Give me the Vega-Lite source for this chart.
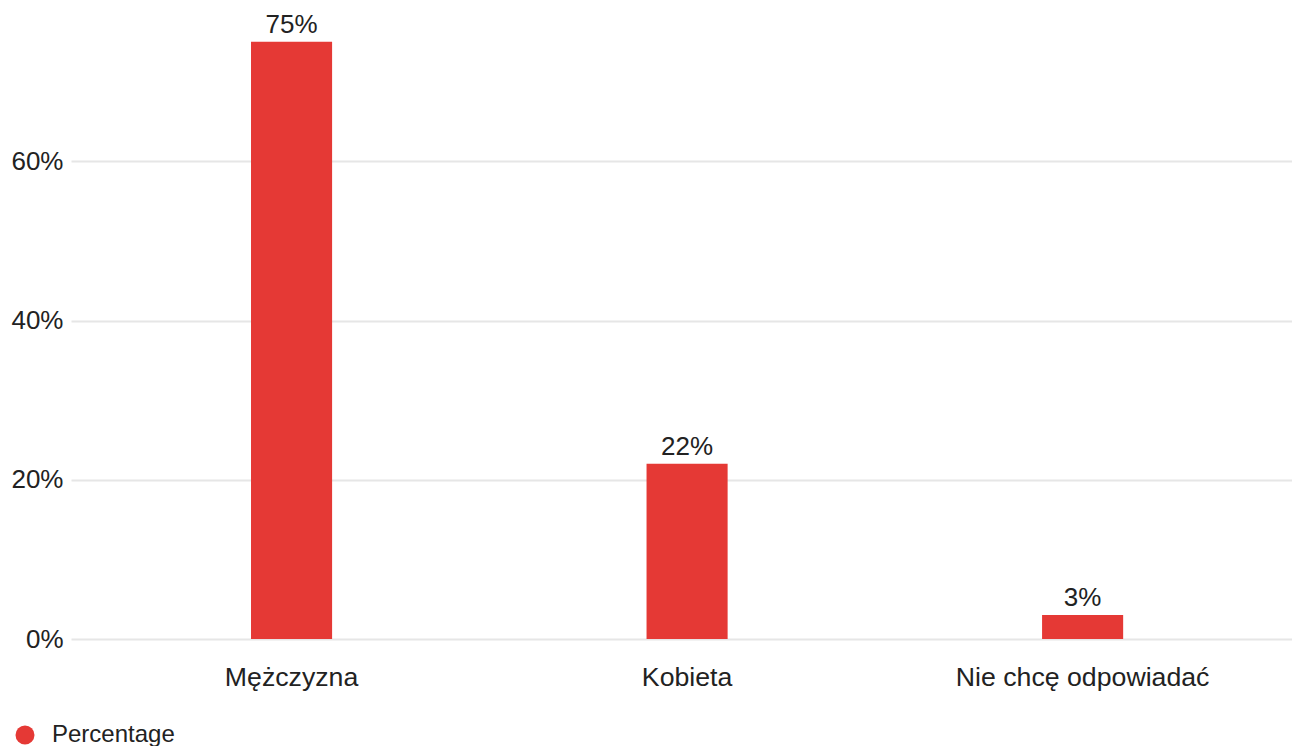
{
  "$schema": "https://vega.github.io/schema/vega-lite/v6.json",
  "autosize": "none",
  "width": 1221,
  "height": 629,
  "padding": {"left": 71, "top": 10, "right": 0, "bottom": 107},
  "background": "white",
  "data": {
    "values": [
      {"category": "Mężczyzna", "value": 0.75, "series": "Percentage"},
      {"category": "Kobieta", "value": 0.22, "series": "Percentage"},
      {"category": "Nie chcę odpowiadać", "value": 0.03, "series": "Percentage"}
    ]
  },
  "config": {
    "font": "Liberation Sans",
    "view": {"stroke": null},
    "axis": {"labelColor": "#222222", "labelFontSize": 26, "ticks": false, "domain": false, "title": null}
  },
  "encoding": {
    "x": {
      "field": "category",
      "type": "nominal",
      "sort": null,
      "scale": {"paddingInner": 0.795, "paddingOuter": 0.441, "align": 0.516},
      "axis": {"labelAngle": 0, "labelPadding": 25, "labelLimit": 0, "labelFontSize": 26.7, "grid": false}
    },
    "y": {
      "field": "value",
      "type": "quantitative",
      "scale": {"domain": [0, 0.79], "nice": false},
      "axis": {"values": [0, 0.2, 0.4, 0.6], "format": ".0%", "labelPadding": 8, "gridColor": "#e6e6e6", "gridWidth": 2}
    }
  },
  "layer": [
    {
      "mark": {"type": "bar", "color": "#e53935"},
      "encoding": {
        "color": {
          "field": "series",
          "type": "nominal",
          "scale": {"range": ["#e53935"]},
          "legend": {
            "title": null,
            "orient": "none",
            "legendX": -58,
            "legendY": 713,
            "symbolType": "circle",
            "symbolSize": 360,
            "symbolStrokeWidth": 0,
            "labelFontSize": 24,
            "labelColor": "#222222",
            "labelOffset": 15
          }
        }
      }
    },
    {
      "mark": {"type": "text", "baseline": "bottom", "dy": -4, "fontSize": 26, "color": "#222222"},
      "encoding": {
        "text": {"field": "value", "type": "quantitative", "format": ".0%"}
      }
    }
  ]
}
